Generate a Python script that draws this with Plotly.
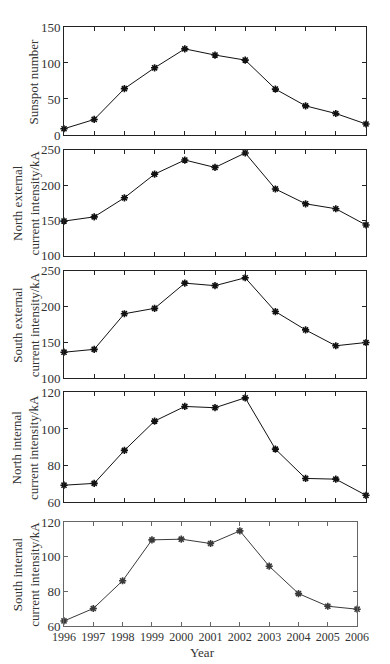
import plotly.graph_objects as go

years = [1996, 1997, 1998, 1999, 2000, 2001, 2002, 2003, 2004, 2005, 2006]
sunspot = [8.6, 21.5, 64.3, 93.3, 119.6, 111.0, 104.0, 63.7, 40.4, 29.8, 15.2]
north_ext = [149, 155, 182, 215.5, 235.5, 225, 245.5, 194.5, 173.5, 166.5, 143.5]
south_ext = [136.5, 140.5, 190, 197.5, 232.5, 229, 240, 193, 167.5, 145.5, 150]
north_int = [69.3, 70.3, 88.3, 104.3, 112.3, 111.6, 117.0, 89.0, 73.0, 72.6, 63.8]
south_int = [62.9, 70.1, 86.1, 109.7, 110.1, 107.6, 114.9, 94.5, 78.7, 71.4, 69.7]

titles = ["Sunspot number",
          "North external<br>current intensity/kA",
          "South external<br>current intensity/kA",
          "North internal<br>current intensity/kA",
          "South internal<br>current intensity/kA"]
series = [sunspot, north_ext, south_ext, north_int, south_int]
yranges = [[0, 150], [100, 250], [100, 250], [60, 120], [60, 120]]
ytickvals = [[0, 50, 100, 150], [100, 150, 200, 250], [100, 150, 200, 250],
             [60, 80, 100, 120], [60, 80, 100, 120]]
ydomains = [[0.8198, 1.0], [0.6182, 0.7950], [0.4132, 0.5934],
            [0.2066, 0.3901], [0.0, 0.1736]]
title_x = [-0.101, -0.127, -0.127, -0.127, -0.127]

FONT = "Liberation Serif"
fig = go.Figure()
annotations = []
for i in range(5):
    n = i + 1
    sfx = "" if n == 1 else str(n)
    last = (n == 5)
    col = "#3a3a3a" if last else "#111111"
    fig.add_trace(go.Scatter(
        x=years, y=series[i], mode="lines+markers",
        xaxis="x" + sfx, yaxis="y" + sfx,
        line=dict(color=col, width=1),
        marker=dict(symbol="asterisk-open", size=6,
                    line=dict(color=col, width=1.6)),
        showlegend=False, cliponaxis=False))
    axcol = "#666666" if last else "#222222"
    fig.layout["xaxis" + sfx] = dict(
        domain=[0, 0.9706] if last else [0, 1],
        anchor="y" + sfx, range=[1996, 2006],
        tickvals=years, ticktext=[str(y) for y in years],
        showticklabels=last, ticks="inside", ticklen=4, tickcolor=axcol,
        showline=True, linecolor=axcol, linewidth=1, mirror="ticks",
        showgrid=False, zeroline=False, ticklabelstandoff=0,
        tickfont=dict(family=FONT, size=12, color="#333333"))
    fig.layout["yaxis" + sfx] = dict(
        domain=ydomains[i], anchor="x" + sfx, range=yranges[i],
        tickvals=ytickvals[i], ticks="inside", ticklen=4, tickcolor=axcol,
        showline=True, linecolor=axcol, linewidth=1, mirror="ticks",
        showgrid=False, zeroline=False,
        tickfont=dict(family=FONT, size=13, color="#333333"))
    annotations.append(dict(
        text=titles[i], xref="paper", yref="paper",
        x=title_x[i], y=(ydomains[i][0] + ydomains[i][1]) / 2,
        xanchor="center", yanchor="middle", textangle=-90, showarrow=False,
        font=dict(family=FONT, size=13, color="#333333")))

annotations.append(dict(
    text="Year", xref="paper", yref="paper", x=0.4575, y=-0.045,
    xanchor="center", yanchor="middle", showarrow=False,
    font=dict(family=FONT, size=13, color="#333333")))

# page body has an 8px default margin, so the figure is sized to fit the window
fig.update_layout(
    width=382, height=656,
    margin=dict(l=56, r=20, t=13, b=38),
    paper_bgcolor="white", plot_bgcolor="white",
    annotations=annotations,
    font=dict(family=FONT, size=13, color="#333333"))

fig.write_html("out.html")
